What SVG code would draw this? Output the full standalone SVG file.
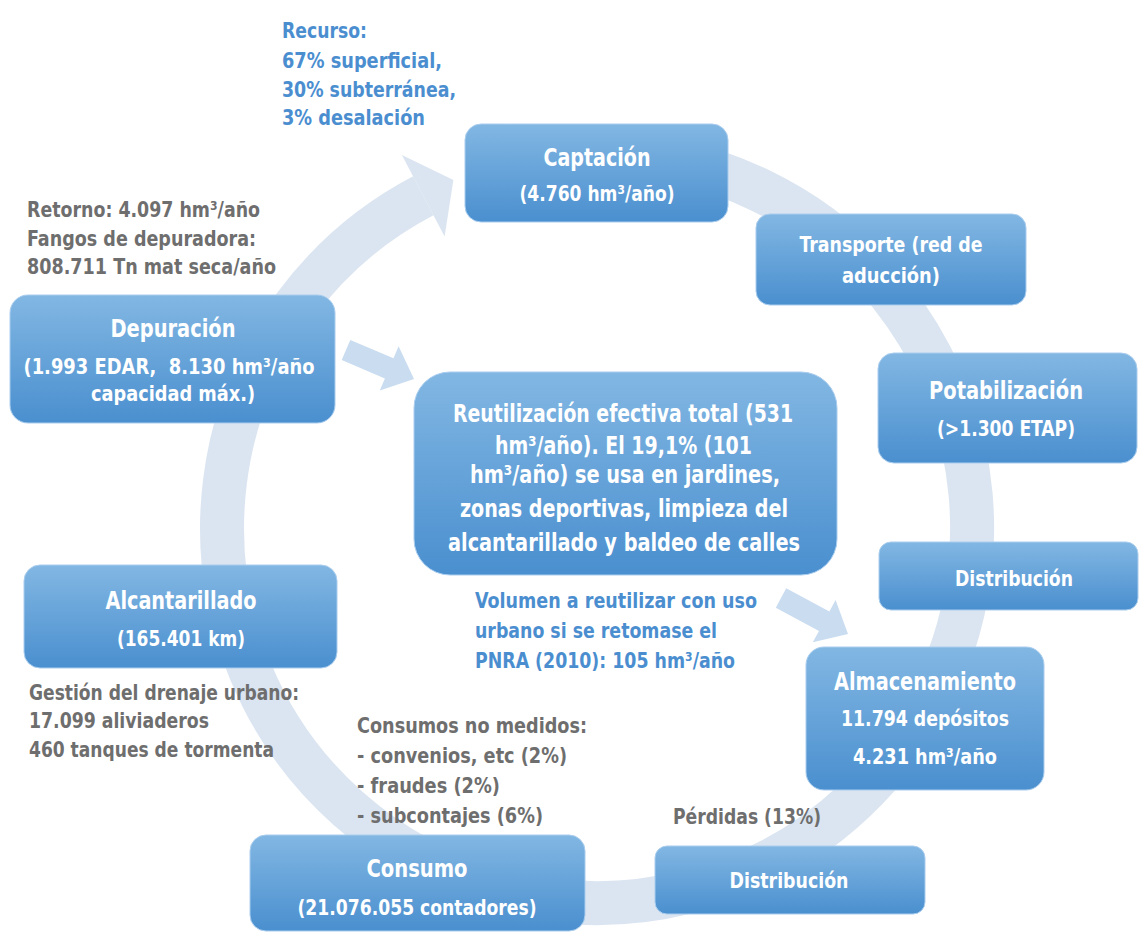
<svg xmlns="http://www.w3.org/2000/svg" width="1139" height="933" viewBox="0 0 1139 933">
<defs>
<linearGradient id="boxg" x1="0" y1="0" x2="0" y2="1">
<stop offset="0" stop-color="#82b7e3"/>
<stop offset="1" stop-color="#4a8fcf"/>
</linearGradient>
</defs>
<style>
text{font-family:"Liberation Sans Narrow","DejaVu Sans Condensed","Liberation Sans",sans-serif;font-weight:bold}
.box{fill:url(#boxg);stroke:#a9cdee;stroke-width:1}
.w{fill:#ffffff;text-anchor:middle}
.b{fill:#4b8ed0}
.g{fill:#6e6e6e}
.ring{fill:none;stroke:#dbe5f1;stroke-width:44}
.ra{fill:#dbe5f1}
.sa{fill:#c9dcf0}
</style>
<rect width="1139" height="933" fill="#ffffff"/>
<g id="connectors">
<path class="ring" d="M 597 153 A 375 375 0 1 1 423.3 195.7"/>
<polygon class="ra" points="401.9,154.9 453.4,179.9 444.6,236.4"/>
<polygon class="sa" points="341.7,360.1 350.3,339.9 393.5,358.3 398.6,346.3 414,379 379.8,390.5 384.9,378.5"/>
<polygon class="sa" points="775.8,607.7 786.2,588.3 829.4,611.5 835.6,600.1 848,634 812.8,642.3 819,630.9"/>
</g>
<g id="recurso">
<text class="b" x="282" y="38" font-size="22" textLength="85" lengthAdjust="spacingAndGlyphs">Recurso:</text>
<text class="b" x="282" y="68" font-size="22" textLength="160" lengthAdjust="spacingAndGlyphs">67% superficial,</text>
<text class="b" x="282" y="97" font-size="22" textLength="174" lengthAdjust="spacingAndGlyphs">30% subterránea,</text>
<text class="b" x="282" y="125" font-size="22" textLength="143" lengthAdjust="spacingAndGlyphs">3% desalación</text>
</g>
<g id="retorno">
<text class="g" x="27" y="217" font-size="22" textLength="233" lengthAdjust="spacingAndGlyphs">Retorno: 4.097 hm³/año</text>
<text class="g" x="27" y="246" font-size="22" textLength="229" lengthAdjust="spacingAndGlyphs">Fangos de depuradora:</text>
<text class="g" x="27" y="274" font-size="22" textLength="249" lengthAdjust="spacingAndGlyphs">808.711 Tn mat seca/año</text>
</g>
<g id="captacion">
<rect class="box" x="465" y="124" width="263" height="98" rx="16"/>
<text class="w" x="597" y="165.5" font-size="24" textLength="107" lengthAdjust="spacingAndGlyphs">Captación</text>
<text class="w" x="597" y="201" font-size="22" textLength="155" lengthAdjust="spacingAndGlyphs">(4.760 hm³/año)</text>
</g>
<g id="transporte">
<rect class="box" x="756" y="214" width="270" height="91" rx="14"/>
<text class="w" x="891" y="252" font-size="22" textLength="183" lengthAdjust="spacingAndGlyphs">Transporte (red de</text>
<text class="w" x="891" y="283" font-size="22" textLength="98" lengthAdjust="spacingAndGlyphs">aducción)</text>
</g>
<g id="potabilizacion">
<rect class="box" x="878" y="353" width="259" height="110" rx="16"/>
<text class="w" x="1006" y="398.5" font-size="24" textLength="154" lengthAdjust="spacingAndGlyphs">Potabilización</text>
<text class="w" x="1006" y="436" font-size="22" textLength="138" lengthAdjust="spacingAndGlyphs">(&gt;1.300 ETAP)</text>
</g>
<g id="distribucion-1">
<rect class="box" x="879" y="542" width="259" height="68" rx="12"/>
<text class="w" x="1014" y="586" font-size="22" textLength="118" lengthAdjust="spacingAndGlyphs">Distribución</text>
</g>
<g id="almacenamiento">
<rect class="box" x="806" y="647" width="238" height="143" rx="18"/>
<text class="w" x="925" y="689.5" font-size="24" textLength="182" lengthAdjust="spacingAndGlyphs">Almacenamiento</text>
<text class="w" x="925" y="726" font-size="22" textLength="168" lengthAdjust="spacingAndGlyphs">11.794 depósitos</text>
<text class="w" x="925" y="764" font-size="22" textLength="144" lengthAdjust="spacingAndGlyphs">4.231 hm³/año</text>
</g>
<g id="perdidas">
<text class="g" x="673" y="824" font-size="22" textLength="148" lengthAdjust="spacingAndGlyphs">Pérdidas (13%)</text>
</g>
<g id="distribucion-2">
<rect class="box" x="655" y="846" width="270" height="68" rx="12"/>
<text class="w" x="789" y="888" font-size="22" textLength="119" lengthAdjust="spacingAndGlyphs">Distribución</text>
</g>
<g id="consumo">
<rect class="box" x="250" y="835" width="335" height="96" rx="16"/>
<text class="w" x="417" y="876.5" font-size="24" textLength="101" lengthAdjust="spacingAndGlyphs">Consumo</text>
<text class="w" x="417" y="915" font-size="22" textLength="239" lengthAdjust="spacingAndGlyphs">(21.076.055 contadores)</text>
</g>
<g id="consumos-no-medidos">
<text class="g" x="357" y="733" font-size="22" textLength="230" lengthAdjust="spacingAndGlyphs">Consumos no medidos:</text>
<text class="g" x="357" y="763" font-size="22" textLength="210" lengthAdjust="spacingAndGlyphs">- convenios, etc (2%)</text>
<text class="g" x="357" y="793" font-size="22" textLength="143" lengthAdjust="spacingAndGlyphs">- fraudes (2%)</text>
<text class="g" x="357" y="823" font-size="22" textLength="186" lengthAdjust="spacingAndGlyphs">- subcontajes (6%)</text>
</g>
<g id="alcantarillado">
<rect class="box" x="24" y="565" width="313" height="103" rx="16"/>
<text class="w" x="181" y="608.5" font-size="24" textLength="151" lengthAdjust="spacingAndGlyphs">Alcantarillado</text>
<text class="w" x="181" y="646" font-size="22" textLength="128" lengthAdjust="spacingAndGlyphs">(165.401 km)</text>
</g>
<g id="gestion-drenaje">
<text class="g" x="29" y="700" font-size="22" textLength="270" lengthAdjust="spacingAndGlyphs">Gestión del drenaje urbano:</text>
<text class="g" x="29" y="728" font-size="22" textLength="180" lengthAdjust="spacingAndGlyphs">17.099 aliviaderos</text>
<text class="g" x="29" y="757" font-size="22" textLength="245" lengthAdjust="spacingAndGlyphs">460 tanques de tormenta</text>
</g>
<g id="depuracion">
<rect class="box" x="10" y="295" width="325" height="128" rx="18"/>
<text class="w" x="173" y="336.5" font-size="24" textLength="125" lengthAdjust="spacingAndGlyphs">Depuración</text>
<text class="w" x="169" y="374" font-size="22" textLength="291" lengthAdjust="spacingAndGlyphs" xml:space="preserve">(1.993 EDAR,  8.130 hm³/año</text>
<text class="w" x="173" y="401" font-size="22" textLength="164" lengthAdjust="spacingAndGlyphs">capacidad máx.)</text>
</g>
<g id="reutilizacion">
<rect class="box" x="414" y="372" width="423" height="203" rx="36"/>
<text class="w" x="623" y="422" font-size="25" textLength="340" lengthAdjust="spacingAndGlyphs">Reutilización efectiva total (531</text>
<text class="w" x="623.5" y="454" font-size="25" textLength="257" lengthAdjust="spacingAndGlyphs">hm³/año). El 19,1% (101</text>
<text class="w" x="625" y="483" font-size="25" textLength="310" lengthAdjust="spacingAndGlyphs">hm³/año) se usa en jardines,</text>
<text class="w" x="624" y="517" font-size="25" textLength="328" lengthAdjust="spacingAndGlyphs">zonas deportivas, limpieza del</text>
<text class="w" x="624" y="551" font-size="25" textLength="352" lengthAdjust="spacingAndGlyphs">alcantarillado y baldeo de calles</text>
</g>
<g id="volumen-pnra">
<text class="b" x="475" y="608" font-size="22" textLength="282" lengthAdjust="spacingAndGlyphs">Volumen a reutilizar con uso</text>
<text class="b" x="475" y="638" font-size="22" textLength="242" lengthAdjust="spacingAndGlyphs">urbano si se retomase el</text>
<text class="b" x="475" y="668" font-size="22" textLength="260" lengthAdjust="spacingAndGlyphs">PNRA (2010): 105 hm³/año</text>
</g>
</svg>
